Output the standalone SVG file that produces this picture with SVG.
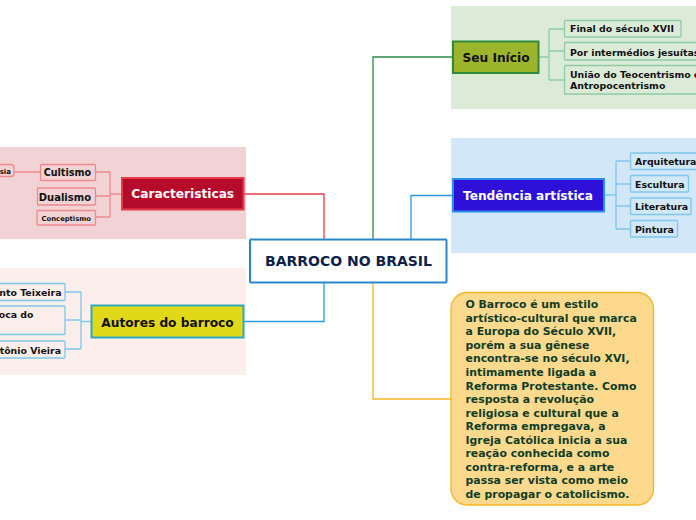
<svg xmlns="http://www.w3.org/2000/svg" width="696" height="520" viewBox="0 0 696 520">
<style>
text{font-family:"DejaVu Sans","Verdana",sans-serif;font-weight:bold}
.main{font-size:12.2px}
.sub{font-size:9.4px;fill:#111}
.c{fill:none;stroke-width:1.3}
</style>
<rect width="696" height="520" fill="#ffffff"/>
<!-- background areas -->
<rect x="451" y="6" width="245" height="103" fill="#dcebd8"/>
<rect x="451" y="138" width="245" height="115" fill="#d2e7f7"/>
<rect x="0" y="147" width="246" height="92" fill="#f1d3d5"/>
<rect x="0" y="268" width="246" height="107" fill="#fcefeb"/>

<g id="connectors">
  <path class="c" d="M324 239 V194 H244" stroke="#e0404c"/>
  <path class="c" d="M373 239 V57 H453" stroke="#2a8a4a"/>
  <path class="c" d="M411 239 V195.5 H453" stroke="#2a9ae0"/>
  <path class="c" d="M324 283 V321.5 H244" stroke="#2a9ae0"/>
  <path class="c" d="M373 283 V399 H451" stroke="#f5b520"/>
  <path class="c" d="M539 57 H549 M549 29 V80 M549 29 H564 M549 51 H564 M549 80 H564" stroke="#8fcca4"/>
  <path class="c" d="M604 195 H616 M616 161 V229 M616 161 H630 M616 184 H630 M616 206 H630 M616 229 H630" stroke="#7fc6f0"/>
  <path class="c" d="M121 194 H110 M110 172 V217 M110 172 H96 M110 196 H96 M110 217 H96 M40 172 H14" stroke="#f08890"/>
  <path class="c" d="M91 321.5 H81 M81 292 V349 M81 292 H65 M81 320 H65 M81 349 H65" stroke="#7cc8e8"/>
</g>

<g id="central">
  <rect x="250" y="239.5" width="196.5" height="43" fill="#ffffff" stroke="#2a87c8" stroke-width="2" rx="1"/>
  <text x="348.5" y="266" font-size="14" fill="#0d1f4a" text-anchor="middle">BARROCO NO BRASIL</text>
</g>

<g id="seu-inicio">
  <rect x="453" y="41.5" width="85.5" height="31.5" fill="#9cb52c" stroke="#2e8b3e" stroke-width="2"/>
  <text class="main" x="496" y="62" text-anchor="middle" fill="#111">Seu Início</text>
</g>
<g id="final-seculo">
  <rect x="564.5" y="20.5" width="116.5" height="16.5" fill="#dcebd8" stroke="#8fcca4" stroke-width="1.3" rx="1"/>
  <text class="sub" x="570" y="32">Final do século XVII</text>
</g>
<g id="jesuitas">
  <rect x="564.5" y="42.5" width="140" height="17.5" fill="#dcebd8" stroke="#8fcca4" stroke-width="1.3" rx="1"/>
  <text class="sub" x="570" y="55.5">Por intermédios jesuítas</text>
</g>
<g id="uniao">
  <rect x="564.5" y="65.5" width="140" height="28.5" fill="#dcebd8" stroke="#8fcca4" stroke-width="1.3" rx="1"/>
  <text class="sub" x="570" y="77.5">União do Teocentrismo e</text>
  <text class="sub" x="570" y="89">Antropocentrismo</text>
</g>

<g id="tendencia">
  <rect x="453" y="179" width="151" height="32.5" fill="#2e10d8" stroke="#2a8ee8" stroke-width="2"/>
  <text class="main" x="528" y="200" text-anchor="middle" fill="#ffffff">Tendência artística</text>
</g>
<g id="arquitetura">
  <rect x="630.5" y="153" width="80" height="16.5" fill="#d2e7f7" stroke="#7fc6f0" stroke-width="1.3" rx="1"/>
  <text class="sub" x="635" y="165">Arquitetura</text>
</g>
<g id="escultura">
  <rect x="630.5" y="175.5" width="58" height="16.5" fill="#d2e7f7" stroke="#7fc6f0" stroke-width="1.3" rx="1"/>
  <text class="sub" x="635" y="187.5">Escultura</text>
</g>
<g id="literatura">
  <rect x="630.5" y="198" width="60.5" height="16.5" fill="#d2e7f7" stroke="#7fc6f0" stroke-width="1.3" rx="1"/>
  <text class="sub" x="635" y="210">Literatura</text>
</g>
<g id="pintura">
  <rect x="630.5" y="220.5" width="47" height="16.5" fill="#d2e7f7" stroke="#7fc6f0" stroke-width="1.3" rx="1"/>
  <text class="sub" x="635" y="232.5">Pintura</text>
</g>

<g id="caracteristicas">
  <rect x="122" y="178" width="121.5" height="31.5" fill="#b50a2a" stroke="#e63a4a" stroke-width="2"/>
  <text class="main" x="182.7" y="197.5" text-anchor="middle" fill="#ffffff">Caracteristicas</text>
</g>
<g id="sia">
  <rect x="-10" y="164.5" width="24" height="12" fill="#f1d3d5" stroke="#f08890" stroke-width="1.3" rx="3"/>
  <text x="11" y="174" font-size="7" fill="#111" text-anchor="end">sia</text>
</g>
<g id="cultismo">
  <rect x="40.5" y="164.5" width="55" height="16" fill="#f1d3d5" stroke="#f08890" stroke-width="1.3" rx="1"/>
  <text x="91" y="176" font-size="9.6" fill="#111" text-anchor="end">Cultismo</text>
</g>
<g id="dualismo">
  <rect x="37.5" y="188" width="58" height="17" fill="#f1d3d5" stroke="#f08890" stroke-width="1.3" rx="1"/>
  <text x="91" y="200.5" font-size="10" fill="#111" text-anchor="end">Dualismo</text>
</g>
<g id="conceptismo">
  <rect x="37" y="210.5" width="58.5" height="14.5" fill="#f1d3d5" stroke="#f08890" stroke-width="1.3" rx="1"/>
  <text x="91" y="220.5" font-size="6.8" fill="#111" text-anchor="end">Conceptismo</text>
</g>

<g id="autores">
  <rect x="91.5" y="305.5" width="152" height="32" fill="#e2d81a" stroke="#2eaab8" stroke-width="2"/>
  <text class="main" x="167.5" y="326.5" text-anchor="middle" fill="#111">Autores do barroco</text>
</g>
<g id="bento">
  <rect x="-10" y="283.5" width="75" height="17" fill="#fcefeb" stroke="#7cc8e8" stroke-width="1.3" rx="1"/>
  <text class="sub" x="61.5" y="296" text-anchor="end">nto Teixeira</text>
</g>
<g id="gregorio">
  <rect x="-10" y="306" width="75" height="28.5" fill="#fcefeb" stroke="#7cc8e8" stroke-width="1.3" rx="1"/>
  <text class="sub" x="33.5" y="318" text-anchor="end">oca do</text>
</g>
<g id="antonio">
  <rect x="-10" y="341" width="75" height="17" fill="#fcefeb" stroke="#7cc8e8" stroke-width="1.3" rx="1"/>
  <text class="sub" x="61" y="353.5" text-anchor="end">tônio Vieira</text>
</g>

<g id="descricao">
  <rect x="451" y="292.5" width="202.5" height="212.5" rx="16" fill="#fcd98c" stroke="#f5b520" stroke-width="1.3"/>
  <g font-size="10.9" fill="#0f3d26">
    <text x="465.5" y="308.3">O Barroco é um estilo</text>
    <text x="465.5" y="321.8">artístico-cultural que marca</text>
    <text x="465.5" y="335.4">a Europa do Século XVII,</text>
    <text x="465.5" y="348.9">porém a sua gênese</text>
    <text x="465.5" y="362.4">encontra-se no século XVI,</text>
    <text x="465.5" y="376">intimamente ligada a</text>
    <text x="465.5" y="389.5">Reforma Protestante. Como</text>
    <text x="465.5" y="403">resposta a revolução</text>
    <text x="465.5" y="416.6">religiosa e cultural que a</text>
    <text x="465.5" y="430.1">Reforma empregava, a</text>
    <text x="465.5" y="443.6">Igreja Católica inicia a sua</text>
    <text x="465.5" y="457.2">reação conhecida como</text>
    <text x="465.5" y="470.7">contra-reforma, e a arte</text>
    <text x="465.5" y="484.2">passa ser vista como meio</text>
    <text x="465.5" y="497.7">de propagar o catolicismo.</text>
  </g>
</g>
</svg>
